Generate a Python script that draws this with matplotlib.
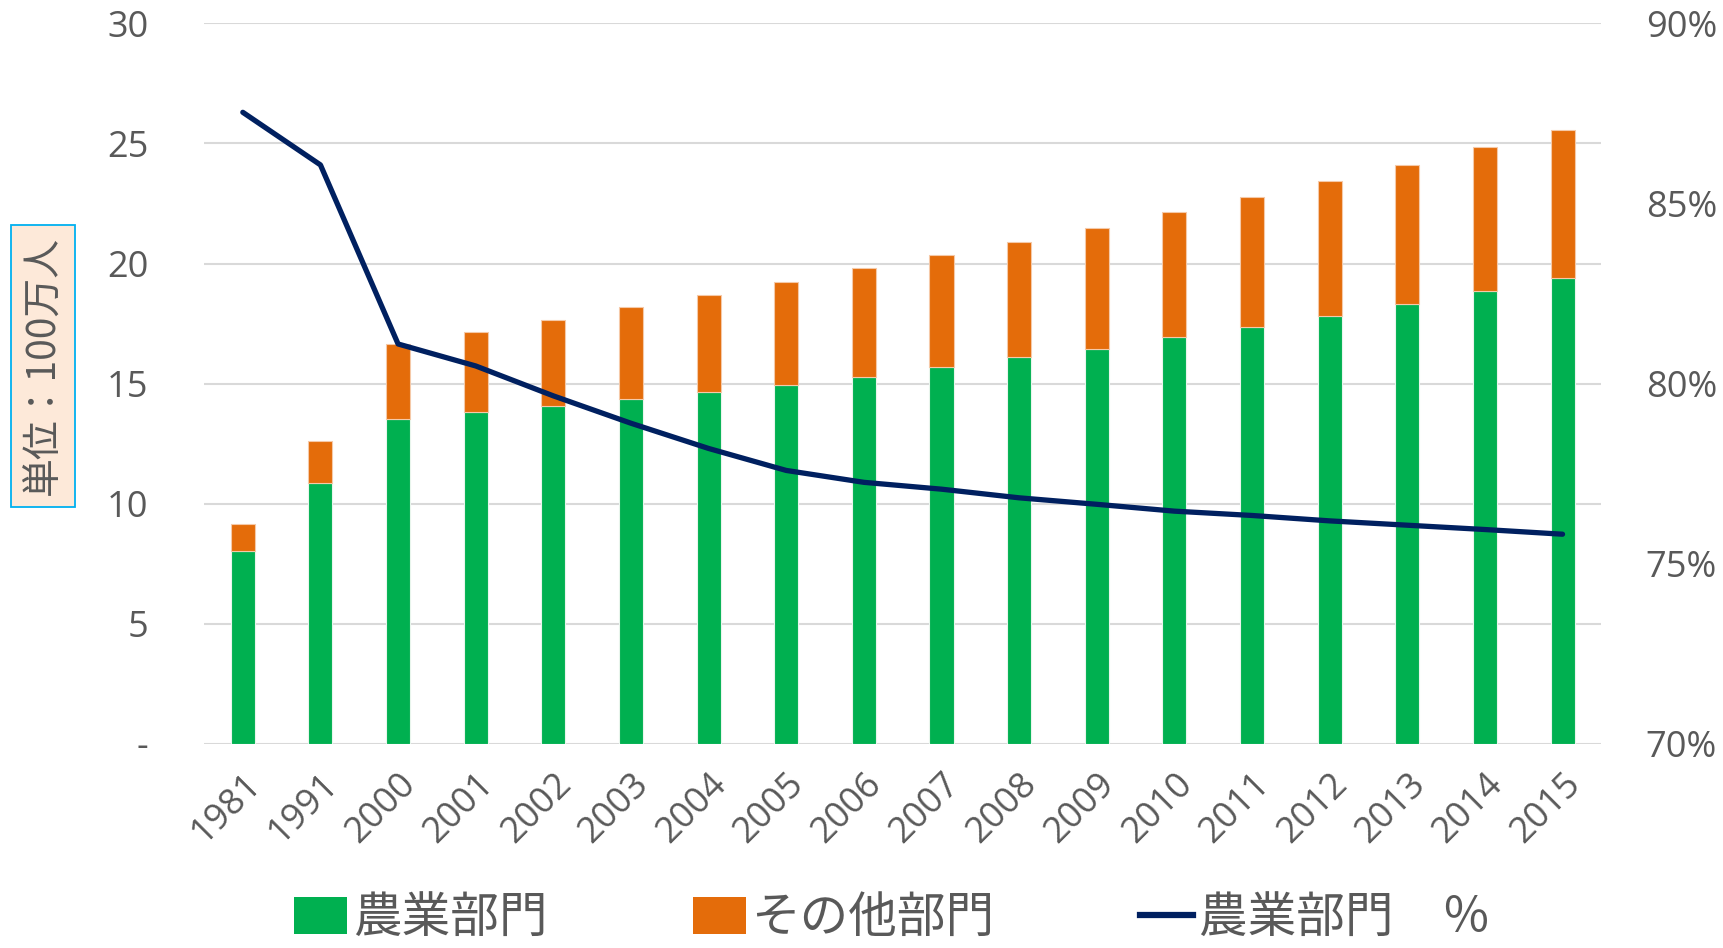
import matplotlib
matplotlib.use("Agg")
import matplotlib.pyplot as plt
from matplotlib.lines import Line2D
from matplotlib.patches import Patch
import numpy as np

years = ["1981", "1991", "2000", "2001", "2002", "2003", "2004", "2005", "2006",
         "2007", "2008", "2009", "2010", "2011", "2012", "2013", "2014", "2015"]
agri = [8.05, 10.88, 13.53, 13.81, 14.08, 14.36, 14.63, 14.95, 15.27,
        15.68, 16.10, 16.46, 16.93, 17.37, 17.83, 18.33, 18.84, 19.39]
total = [9.15, 12.62, 16.64, 17.15, 17.65, 18.20, 18.70, 19.25, 19.80,
         20.35, 20.90, 21.49, 22.13, 22.75, 23.42, 24.10, 24.84, 25.56]
other = [t - a for t, a in zip(total, agri)]
agri_pct = [87.53, 86.07, 81.10, 80.49, 79.66, 78.90, 78.20, 77.59, 77.26,
            77.07, 76.83, 76.65, 76.46, 76.34, 76.19, 76.07, 75.95, 75.82]

left_ticks = [0, 5, 10, 15, 20, 25, 30]
left_labels = ["-", "5", "10", "15", "20", "25", "30"]
right_ticks = [70, 75, 80, 85, 90]
right_labels = ["70%", "75%", "80%", "85%", "90%"]

GREEN = "#00B050"
ORANGE = "#E46C0A"
NAVY = "#002060"
GRAY = "#595959"

plt.rcParams['font.family'] = ['Open Sans', 'Noto Sans CJK JP', 'DejaVu Sans']
jp = ['Noto Sans CJK JP', 'DejaVu Sans']

fig = plt.figure(figsize=(17.23, 9.48), dpi=100)
ax = fig.add_axes([0.1184, 0.2153, 0.8110, 0.7601])
x = np.arange(len(years))
ax.bar(x, agri, width=0.31, color=GREEN, edgecolor="#E8F5EC", linewidth=0.8, zorder=2)
ax.bar(x, other, bottom=agri, width=0.31, color=ORANGE, edgecolor="#F5C9A8", linewidth=0.8, zorder=2)
ax.set_xlim(-0.5, len(years) - 0.5)
ax.set_ylim(0, 30)
ax.set_yticks(left_ticks)
ax.set_yticklabels(left_labels)
ax.set_xticks(x)
ax.set_xticklabels(years, rotation=45, ha="right", rotation_mode="anchor")
ax.grid(axis="y", color="#D9D9D9", linewidth=1.5, zorder=0)
ax.set_axisbelow(True)
for s in ax.spines.values():
    s.set_visible(False)
ax.tick_params(axis="both", length=0, labelsize=26, colors=GRAY)
ax.tick_params(axis="y", pad=40)
ax.tick_params(axis="x", pad=16)

ax2 = ax.twinx()
ax2.plot(x, agri_pct, color=NAVY, linewidth=3.8, solid_capstyle="round", zorder=3)
ax2.set_ylim(70, 90)
ax2.set_yticks(right_ticks)
ax2.set_yticklabels(right_labels)
for s in ax2.spines.values():
    s.set_visible(False)
ax2.tick_params(axis="y", length=0, labelsize=26, colors=GRAY, pad=32)

fig.text(0.025, 0.614, "単位：100万人", rotation=90, ha="center", va="center",
         fontsize=28, color=GRAY, family=jp,
         bbox=dict(boxstyle="square,pad=0.3", facecolor="#FDE9D9", edgecolor="#00B0F0", linewidth=1.3))

handles = [Patch(facecolor=GREEN, edgecolor="none"),
           Patch(facecolor=ORANGE, edgecolor="none"),
           Line2D([0], [0], color=NAVY, linewidth=4.5)]
labels = ["農業部門", "その他部門", "農業部門　％"]
leg = fig.legend(handles, labels, loc="center", bbox_to_anchor=(0.518, 0.031), ncol=3,
                 frameon=False, prop={'family': jp, 'size': 35}, labelcolor=GRAY,
                 handlelength=1.08, handleheight=0.78, handletextpad=0.12, columnspacing=3.0,
                 borderpad=0.1)

fig.savefig("out.png", dpi=100)
